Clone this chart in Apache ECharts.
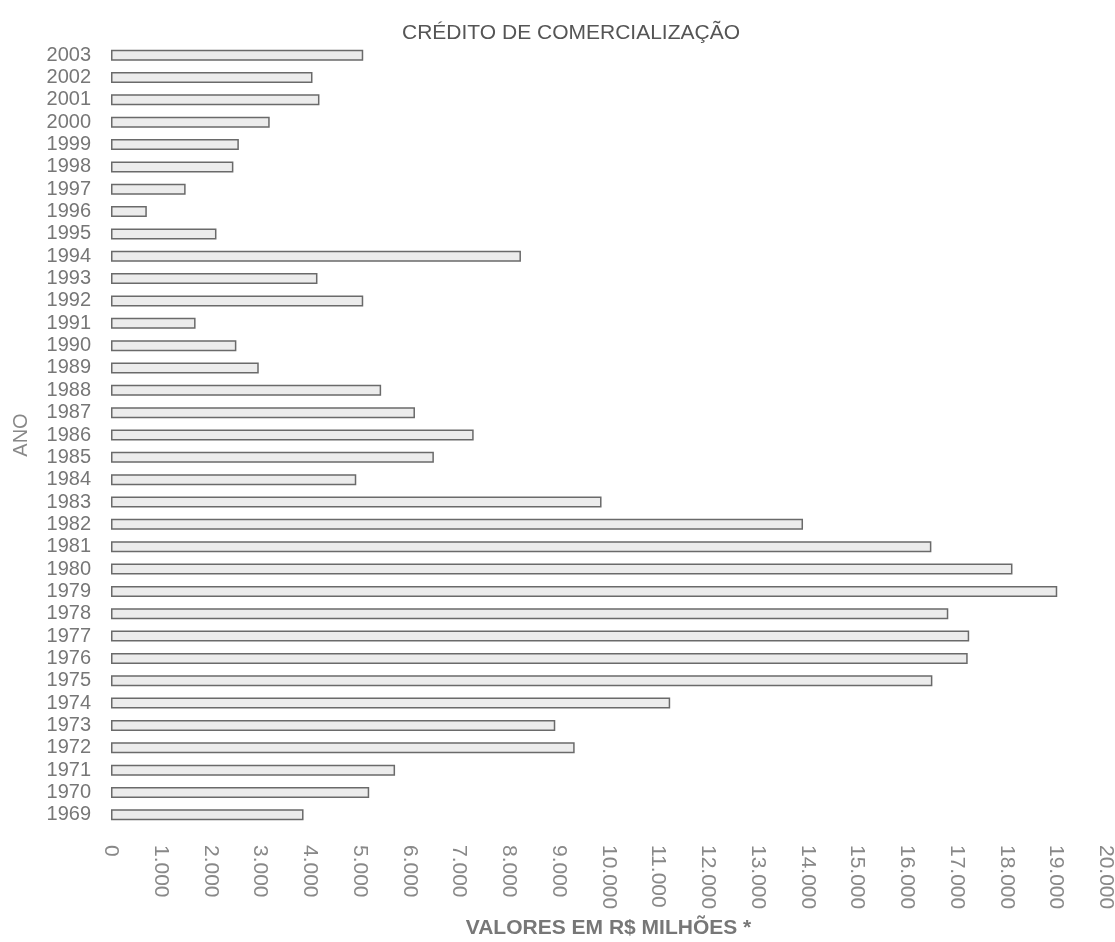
<!DOCTYPE html>
<html>
<head>
<meta charset="utf-8">
<script src="https://cdn.jsdelivr.net/npm/echarts@6/dist/echarts.min.js"></script>
<style>
  html, body { margin: 0; padding: 0; background: #fff; }
  #chart { width: 1115px; height: 942px; }
</style>
</head>
<body>
<div id="chart"></div>
<script>
// anos (de baixo para cima)
const anos = [
  '1969', '1970', '1971', '1972', '1973', '1974', '1975', '1976', '1977', '1978',
  '1979', '1980', '1981', '1982', '1983', '1984', '1985', '1986', '1987', '1988',
  '1989', '1990', '1991', '1992', '1993', '1994', '1995', '1996', '1997', '1998',
  '1999', '2000', '2001', '2002', '2003'
];
// valores em R$ milhões
const valores = [
  3870, 5190, 5710, 9320, 8930, 11240, 16510, 17220, 17250, 16830,
  19020, 18120, 16490, 13910, 9860, 4930, 6490, 7290, 6110, 5430,
  2970, 2520, 1700, 5070, 4150, 8240, 2120, 720, 1500, 2460,
  2570, 3190, 4190, 4050, 5070
];
const xTicks = { min: 0, max: 20000, interval: 1000 };

const chart = echarts.init(document.getElementById('chart'));

function fmt(v) {
  return String(v).replace(/\B(?=(\d{3})+(?!\d))/g, '.');
}

const option = {
  backgroundColor: '#fff',
  animation: false,
  textStyle: { fontFamily: 'Liberation Sans, Arial, sans-serif' },
  title: {
    text: 'CRÉDITO DE COMERCIALIZAÇÃO',
    left: 566,
    top: 18,
    textAlign: 'center',
    textStyle: { fontSize: 21, fontWeight: 'normal', color: '#555' }
  },
  grid: {
    left: 111,
    right: 9,
    top: 44,
    bottom: 116,
    containLabel: false,
    outerBoundsMode: 'none'
  },
  xAxis: {
    type: 'value',
    min: xTicks.min,
    max: xTicks.max,
    interval: xTicks.interval,
    name: 'VALORES EM R$ MILHÕES *',
    nameLocation: 'middle',
    nameGap: 92,
    nameTextStyle: { fontSize: 21, color: '#777', fontWeight: 'bold' },
    axisLine: { show: false },
    axisTick: { show: false },
    splitLine: { show: false },
    axisLabel: {
      rotate: -90,
      margin: 19,
      fontSize: 21,
      color: '#888',
      formatter: fmt
    }
  },
  yAxis: {
    type: 'category',
    data: anos,
    name: 'ANO',
    nameLocation: 'middle',
    nameGap: 80,
    nameRotate: 90,
    nameTextStyle: { fontSize: 20, color: '#888' },
    axisLine: { show: false },
    axisTick: { show: false },
    axisLabel: { interval: 0, fontSize: 20, color: '#777', margin: 20 }
  },
  series: [
    {
      type: 'bar',
      data: valores,
      barWidth: 11,
      itemStyle: {
        color: '#ececec',
        borderColor: '#6a6a6a',
        borderWidth: 1.5
      }
    }
  ]
};

chart.setOption(option);
</script>
</body>
</html>
